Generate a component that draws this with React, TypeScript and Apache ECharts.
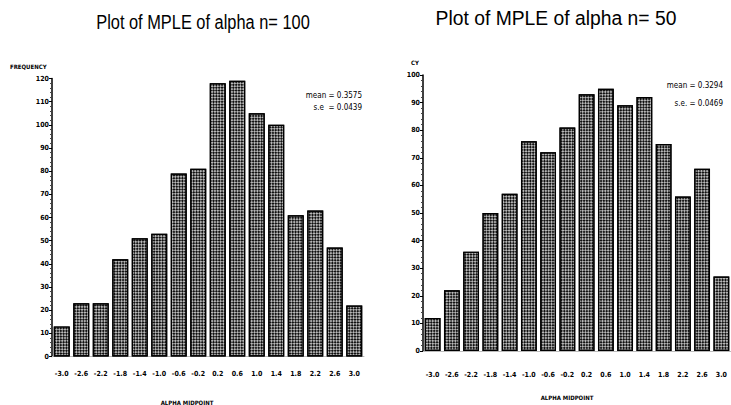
import React, { useEffect, useRef } from "react";
import * as echarts from "echarts";

const categories = ["-3.0", "-2.6", "-2.2", "-1.8", "-1.4", "-1.0", "-0.6", "-0.2", "0.2", "0.6", "1.0", "1.4", "1.8", "2.2", "2.6", "3.0"];
const freq100 = [13, 23, 23, 42, 51, 53, 79, 81, 118, 119, 105, 100, 61, 63, 47, 22];
const freq50 = [12, 22, 36, 50, 57, 76, 72, 81, 93, 95, 89, 92, 75, 56, 66, 27];
const title100 = "Plot of MPLE of alpha n= 100";
const title50 = "Plot of MPLE of alpha n= 50";
const stats100 = ["mean = 0.3575", "s.e  = 0.0439"];
const stats50 = ["mean = 0.3294", "s.e. = 0.0469"];

const narrow = "'Liberation Sans Narrow', 'DejaVu Sans Condensed', 'Liberation Sans', sans-serif";
const sans = "'Liberation Sans', Arial, sans-serif";

export default function App() {
  const ref = useRef<HTMLDivElement>(null);
  useEffect(() => {
    const chart = echarts.init(ref.current!, null, { renderer: "svg" });
    const decal = {
      symbol: "rect",
      symbolSize: 1,
      color: "#111",
      dashArrayX: [[1.5, 1.5], [0, 1.5, 1.5, 0]],
      dashArrayY: [1.5, 0],
      rotation: Math.PI / 4,
    };
    const barStyle = { color: "#b8b8b8", borderColor: "#000", borderWidth: 1.2, decal };
    const yLabel = { fontSize: 7, fontWeight: "bold", color: "#000", fontFamily: narrow, margin: 3 };
    const xLabel = { fontSize: 7, fontWeight: "bold", color: "#000", fontFamily: narrow, interval: 0 };
    chart.setOption({
      animation: false,
      backgroundColor: "#fff",
      grid: [
        { left: 52, top: 78.5, width: 312, bottom: 48.5 },
        { left: 423, top: 75, width: 308, bottom: 54 },
      ],
      xAxis: [
        {
          type: "category", gridIndex: 0, data: categories,
          axisLine: { show: true, lineStyle: { color: "#bbb", width: 1 } },
          axisTick: { show: false },
          axisLabel: { ...xLabel, margin: 14 },
        },
        {
          type: "category", gridIndex: 1, data: categories,
          axisLine: { show: true, lineStyle: { color: "#bbb", width: 1 } },
          axisTick: { show: false },
          axisLabel: { ...xLabel, margin: 20 },
        },
      ],
      yAxis: [
        {
          type: "value", gridIndex: 0, min: 0, max: 120, interval: 10,
          axisLine: { show: true, lineStyle: { color: "#000", width: 1.5 } },
          axisTick: { show: true, length: 3, lineStyle: { color: "#000" } },
          minorTick: { show: true, splitNumber: 5, length: 2, lineStyle: { color: "#444" } },
          splitLine: { show: false },
          axisLabel: yLabel,
        },
        {
          type: "value", gridIndex: 1, min: 0, max: 100, interval: 10,
          axisLine: { show: true, lineStyle: { color: "#000", width: 1.5 } },
          axisTick: { show: true, length: 3, lineStyle: { color: "#000" } },
          minorTick: { show: true, splitNumber: 5, length: 2, lineStyle: { color: "#444" } },
          splitLine: { show: false },
          axisLabel: yLabel,
        },
      ],
      series: [
        { type: "bar", xAxisIndex: 0, yAxisIndex: 0, data: freq100, barCategoryGap: "18%", itemStyle: barStyle },
        { type: "bar", xAxisIndex: 1, yAxisIndex: 1, data: freq50, barCategoryGap: "18%", itemStyle: barStyle },
      ],
      graphic: [
        { type: "text", x: 203, y: 22, scaleX: 0.78, style: { text: title100, fontSize: 21, fontFamily: sans, fill: "#000", align: "center", verticalAlign: "middle" } },
        { type: "text", x: 556, y: 18, scaleX: 0.92, style: { text: title50, fontSize: 21, fontFamily: sans, fill: "#000", align: "center", verticalAlign: "middle" } },
        { type: "text", x: 10, y: 66, style: { text: "FREQUENCY", fontSize: 6, fontWeight: "bold", fontFamily: narrow, fill: "#000", verticalAlign: "middle" } },
        { type: "text", x: 411, y: 62, style: { text: "CY", fontSize: 6, fontWeight: "bold", fontFamily: narrow, fill: "#000", verticalAlign: "middle" } },
        { type: "text", x: 362, y: 95, style: { text: stats100[0], fontSize: 8, fontFamily: narrow, fill: "#000", align: "right", verticalAlign: "middle" } },
        { type: "text", x: 362, y: 107, style: { text: stats100[1], fontSize: 8, fontFamily: narrow, fill: "#000", align: "right", verticalAlign: "middle" } },
        { type: "text", x: 723, y: 85, style: { text: stats50[0], fontSize: 8, fontFamily: narrow, fill: "#000", align: "right", verticalAlign: "middle" } },
        { type: "text", x: 723, y: 103, style: { text: stats50[1], fontSize: 8, fontFamily: narrow, fill: "#000", align: "right", verticalAlign: "middle" } },
        { type: "text", x: 187, y: 402, style: { text: "ALPHA MIDPOINT", fontSize: 6, fontWeight: "bold", fontFamily: narrow, fill: "#000", align: "center", verticalAlign: "middle" } },
        { type: "text", x: 567, y: 397, style: { text: "ALPHA MIDPOINT", fontSize: 6, fontWeight: "bold", fontFamily: narrow, fill: "#000", align: "center", verticalAlign: "middle" } },
      ],
    });
    return () => chart.dispose();
  }, []);
  return <div ref={ref} style={{ position: "fixed", left: 0, top: 0, width: 731, height: 405 }} />;
}
